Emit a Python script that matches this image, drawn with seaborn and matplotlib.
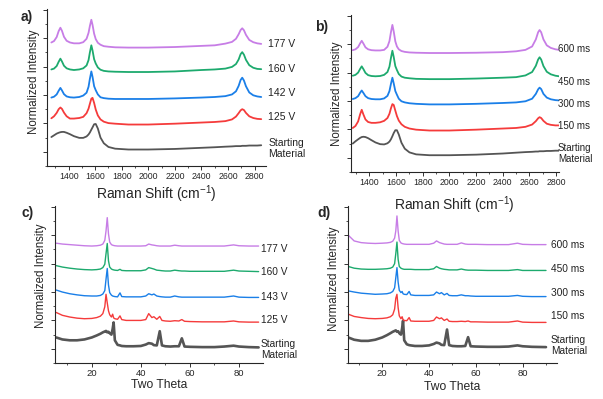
import numpy as np
import pandas as pd
import seaborn as sns
import matplotlib
matplotlib.use("Agg")
import matplotlib.pyplot as plt
from matplotlib.ticker import MultipleLocator, AutoMinorLocator

# ---- data (stacking offsets included) ----
sample_colors = ["#555555", "#f53b3b", "#1a7fe8", "#1daa6e", "#c77de6"]

raman_a_shift = [1270, 1290, 1310, 1325, 1338, 1350, 1365, 1385, 1410, 1440, 1480, 1510, 1535, 1550,
                 1560, 1571, 1580, 1592, 1604, 1620, 1640, 1665, 1700, 1750, 1850, 2000, 2200, 2400,
                 2500, 2580, 2630, 2660, 2680, 2695, 2707, 2720, 2735, 2760, 2790, 2820, 2850]
raman_a_start = [0.52, 0.58, 0.64, 0.67, 0.69, 0.70, 0.70, 0.67, 0.62, 0.55, 0.49, 0.49, 0.54, 0.61,
                 0.68, 0.78, 0.86, 0.97, 0.98, 0.82, 0.50, 0.30, 0.17, 0.11, 0.08, 0.08, 0.10, 0.14,
                 0.16, 0.18, 0.19, 0.20, 0.20, 0.20, 0.21, 0.21, 0.21, 0.22, 0.22, 0.22, 0.23]
raman_a_125 = [1.18, 1.25, 1.37, 1.50, 1.56, 1.51, 1.38, 1.25, 1.17, 1.17, 1.19, 1.23, 1.36, 1.52,
               1.69, 1.87, 1.90, 1.72, 1.49, 1.28, 1.14, 1.06, 1.01, 0.99, 0.96, 0.96, 0.99, 1.03,
               1.05, 1.08, 1.14, 1.24, 1.36, 1.46, 1.50, 1.47, 1.37, 1.25, 1.19, 1.16, 1.15]
raman_a_142 = [1.91, 1.94, 2.02, 2.15, 2.25, 2.16, 2.03, 1.95, 1.92, 1.91, 1.93, 1.98, 2.08, 2.29,
               2.57, 2.83, 2.64, 2.31, 2.17, 2.02, 1.92, 1.89, 1.87, 1.86, 1.86, 1.86, 1.88, 1.91,
               1.93, 1.96, 2.02, 2.13, 2.32, 2.53, 2.61, 2.51, 2.31, 2.09, 1.99, 1.95, 1.93]
raman_a_160 = [2.90, 2.93, 3.02, 3.17, 3.28, 3.18, 3.03, 2.94, 2.90, 2.88, 2.90, 2.94, 3.04, 3.23,
               3.50, 3.75, 3.57, 3.26, 3.11, 2.97, 2.89, 2.85, 2.83, 2.82, 2.81, 2.81, 2.83, 2.88,
               2.90, 2.93, 2.99, 3.09, 3.25, 3.44, 3.51, 3.42, 3.24, 3.05, 2.96, 2.92, 2.91]
raman_a_177 = [3.85, 3.90, 4.04, 4.25, 4.37, 4.26, 4.05, 3.91, 3.85, 3.82, 3.82, 3.86, 3.98, 4.19,
               4.43, 4.65, 4.47, 4.16, 3.97, 3.84, 3.77, 3.72, 3.70, 3.68, 3.67, 3.67, 3.69, 3.73,
               3.75, 3.81, 3.87, 3.98, 4.14, 4.29, 4.35, 4.28, 4.12, 3.94, 3.86, 3.82, 3.80]
raman_a_labels = ["Starting\nMaterial", "125 V", "142 V", "160 V", "177 V"]
raman_a_label_y = [0.12, 1.21, 2.07, 2.93, 3.80]

raman_b_shift = [1275, 1295, 1315, 1330, 1342, 1355, 1370, 1390, 1415, 1445, 1480, 1510, 1535, 1550,
                 1561, 1572, 1582, 1594, 1606, 1620, 1640, 1665, 1700, 1750, 1850, 2000, 2200, 2400,
                 2500, 2570, 2620, 2648, 2665, 2676, 2688, 2705, 2730, 2760, 2795, 2823]
raman_b_start = [0.50, 0.58, 0.65, 0.70, 0.73, 0.74, 0.73, 0.69, 0.62, 0.54, 0.48, 0.47, 0.51, 0.57,
                 0.65, 0.76, 0.87, 0.97, 0.97, 0.82, 0.53, 0.32, 0.19, 0.12, 0.09, 0.09, 0.11, 0.15,
                 0.18, 0.20, 0.21, 0.22, 0.22, 0.23, 0.23, 0.23, 0.24, 0.24, 0.25, 0.25]
raman_b_150 = [1.05, 1.12, 1.28, 1.53, 1.69, 1.52, 1.35, 1.26, 1.23, 1.23, 1.25, 1.30, 1.40, 1.55,
               1.74, 1.89, 1.86, 1.66, 1.47, 1.31, 1.18, 1.09, 1.03, 0.99, 0.96, 0.96, 0.99, 1.03,
               1.05, 1.09, 1.17, 1.29, 1.39, 1.43, 1.40, 1.30, 1.20, 1.16, 1.14, 1.14]
raman_b_300 = [2.07, 2.10, 2.17, 2.29, 2.37, 2.28, 2.17, 2.10, 2.07, 2.06, 2.06, 2.09, 2.18, 2.35,
               2.60, 2.82, 2.62, 2.35, 2.22, 2.08, 1.99, 1.95, 1.92, 1.90, 1.88, 1.88, 1.90, 1.93,
               1.95, 1.99, 2.08, 2.25, 2.41, 2.47, 2.42, 2.25, 2.12, 2.06, 2.03, 2.02]
raman_b_450 = [2.89, 2.92, 3.00, 3.13, 3.22, 3.12, 2.99, 2.91, 2.88, 2.87, 2.88, 2.92, 3.02, 3.21,
               3.51, 3.77, 3.55, 3.23, 3.09, 2.95, 2.86, 2.82, 2.80, 2.78, 2.77, 2.77, 2.79, 2.82,
               2.84, 2.90, 3.02, 3.24, 3.46, 3.54, 3.46, 3.23, 3.03, 2.94, 2.89, 2.87]
raman_b_600 = [3.79, 3.82, 3.90, 4.03, 4.12, 4.02, 3.89, 3.82, 3.79, 3.78, 3.78, 3.80, 3.91, 4.11,
               4.42, 4.68, 4.45, 4.10, 3.92, 3.82, 3.76, 3.73, 3.71, 3.70, 3.69, 3.69, 3.70, 3.72,
               3.75, 3.80, 3.92, 4.17, 4.42, 4.50, 4.42, 4.17, 3.96, 3.87, 3.82, 3.80]
raman_b_labels = ["Starting\nMaterial", "150 ms", "300 ms", "450 ms", "600 ms"]
raman_b_label_y = [0.14, 1.11, 1.88, 2.67, 3.83]

xrd_c_theta = [5.5, 8, 11, 14, 17, 20, 22, 23.5, 24.5, 25.3, 25.8, 26.3, 26.8, 27.3, 28.0, 28.5,
               28.9, 29.4, 30.5, 31.5, 32.2, 34, 37, 40, 42, 43.2, 44.5, 45.3, 46.5, 47.7, 48.6,
               50, 52, 53.8, 55.5, 56.7, 57.8, 60, 65, 70, 74, 77.8, 80, 84, 88]
xrd_c_start = [0.40, 0.33, 0.30, 0.30, 0.33, 0.40, 0.47, 0.53, 0.58, 0.61, 0.63, 0.58, 0.60, 0.55,
               0.50, 0.70, 0.93, 0.30, 0.14, 0.12, 0.10, 0.09, 0.09, 0.10, 0.15, 0.20, 0.18, 0.13,
               0.12, 0.62, 0.12, 0.09, 0.08, 0.09, 0.09, 0.37, 0.08, 0.07, 0.06, 0.06, 0.08, 0.11,
               0.08, 0.06, 0.05]
xrd_c_125 = [1.28, 1.18, 1.12, 1.08, 1.06, 1.07, 1.10, 1.15, 1.24, 1.48, 1.92, 1.62, 1.34, 1.20,
             1.12, 1.22, 1.09, 1.06, 1.04, 1.16, 1.03, 1.00, 1.00, 1.00, 1.03, 1.24, 1.10, 1.13,
             1.04, 1.14, 1.00, 0.98, 0.97, 0.99, 0.98, 1.03, 0.97, 0.96, 0.95, 0.95, 0.95, 0.98,
             0.95, 0.94, 0.94]
xrd_c_143 = [2.07, 2.00, 1.94, 1.90, 1.87, 1.86, 1.86, 1.88, 1.93, 2.05, 2.45, 2.83, 2.25, 1.98,
             1.89, 1.86, 1.85, 1.84, 1.83, 1.97, 1.84, 1.83, 1.83, 1.83, 1.86, 1.94, 1.90, 1.93,
             1.86, 1.84, 1.83, 1.82, 1.82, 1.86, 1.83, 1.82, 1.82, 1.82, 1.82, 1.82, 1.82, 1.86,
             1.82, 1.81, 1.81]
xrd_c_160 = [2.93, 2.88, 2.84, 2.81, 2.79, 2.78, 2.79, 2.81, 2.86, 2.98, 3.35, 3.71, 3.10, 2.88,
             2.81, 2.79, 2.78, 2.77, 2.76, 2.80, 2.76, 2.75, 2.75, 2.75, 2.78, 2.86, 2.83, 2.81,
             2.77, 2.76, 2.75, 2.74, 2.74, 2.77, 2.75, 2.74, 2.74, 2.73, 2.73, 2.73, 2.73, 2.77,
             2.74, 2.73, 2.72]
xrd_c_177 = [3.72, 3.69, 3.67, 3.65, 3.63, 3.62, 3.63, 3.65, 3.69, 3.82, 4.15, 4.62, 4.05, 3.76,
             3.67, 3.65, 3.64, 3.63, 3.62, 3.62, 3.62, 3.62, 3.62, 3.62, 3.63, 3.69, 3.66, 3.65,
             3.63, 3.62, 3.62, 3.62, 3.62, 3.65, 3.63, 3.62, 3.62, 3.62, 3.62, 3.62, 3.62, 3.66,
             3.63, 3.62, 3.62]
xrd_c_labels = ["Starting\nMaterial", "125 V", "143 V", "160 V", "177 V"]
xrd_c_label_y = [-0.02, 1.02, 1.84, 2.71, 3.53]

xrd_d_theta = [5.5, 8, 11, 14, 17, 20, 22, 23.5, 24.5, 25.3, 25.8, 26.3, 26.8, 27.3, 28.0, 28.5,
               28.9, 29.4, 30.5, 31.5, 32.2, 34, 37, 40, 42, 43.2, 44.5, 45.3, 46.5, 47.7, 48.6,
               50, 52, 53.8, 55.5, 56.7, 57.8, 60, 65, 70, 74, 77.8, 80, 84, 90]
xrd_d_start = [0.40, 0.32, 0.28, 0.28, 0.32, 0.40, 0.48, 0.55, 0.60, 0.63, 0.65, 0.60, 0.62, 0.55,
               0.50, 0.72, 0.99, 0.30, 0.16, 0.13, 0.12, 0.10, 0.10, 0.12, 0.17, 0.22, 0.19, 0.14,
               0.13, 0.68, 0.13, 0.10, 0.09, 0.09, 0.10, 0.41, 0.09, 0.08, 0.07, 0.07, 0.08, 0.12,
               0.09, 0.07, 0.06]
xrd_d_150 = [1.22, 1.14, 1.10, 1.07, 1.06, 1.07, 1.09, 1.13, 1.20, 1.40, 1.78, 1.92, 1.45, 1.16,
             1.06, 1.13, 1.03, 1.00, 0.99, 1.10, 0.98, 0.97, 0.97, 0.97, 1.00, 1.12, 1.06, 1.09,
             1.00, 1.05, 0.97, 0.96, 0.96, 0.97, 0.96, 0.98, 0.95, 0.95, 0.94, 0.94, 0.94, 0.98,
             0.94, 0.93, 0.93]
xrd_d_300 = [2.04, 2.00, 1.96, 1.94, 1.92, 1.93, 1.94, 1.97, 2.02, 2.15, 2.50, 2.86, 2.35, 2.06,
             1.98, 2.02, 1.94, 1.92, 1.91, 2.02, 1.90, 1.88, 1.88, 1.88, 1.90, 2.00, 1.94, 1.98,
             1.90, 1.95, 1.88, 1.87, 1.87, 1.90, 1.87, 1.87, 1.86, 1.85, 1.85, 1.85, 1.85, 1.88,
             1.85, 1.84, 1.84]
xrd_d_450 = [2.90, 2.84, 2.81, 2.80, 2.80, 2.81, 2.82, 2.84, 2.88, 3.00, 3.35, 3.76, 3.15, 2.90,
             2.84, 2.82, 2.81, 2.80, 2.80, 2.80, 2.80, 2.79, 2.79, 2.79, 2.82, 2.90, 2.84, 2.82,
             2.80, 2.79, 2.78, 2.78, 2.78, 2.81, 2.78, 2.77, 2.77, 2.77, 2.76, 2.76, 2.76, 2.79,
             2.76, 2.76, 2.76]
xrd_d_600 = [4.00, 3.80, 3.74, 3.72, 3.71, 3.72, 3.73, 3.75, 3.79, 3.90, 4.15, 4.68, 4.15, 3.82,
             3.73, 3.71, 3.70, 3.69, 3.68, 3.68, 3.68, 3.68, 3.68, 3.68, 3.72, 3.80, 3.74, 3.72,
             3.69, 3.68, 3.68, 3.68, 3.68, 3.73, 3.69, 3.68, 3.68, 3.68, 3.67, 3.67, 3.67, 3.72,
             3.68, 3.67, 3.67]
xrd_d_labels = ["Starting\nMaterial", "150 ms", "300 ms", "450 ms", "600 ms"]
xrd_d_label_y = [0.12, 1.14, 1.98, 2.80, 3.65]

# ---- style ----
sns.set_style("ticks")
plt.rcParams['font.family'] = ['Liberation Sans', 'DejaVu Sans']
plt.rcParams['mathtext.fontset'] = 'custom'
plt.rcParams['mathtext.rm'] = 'Liberation Sans'
plt.rcParams['mathtext.it'] = 'Liberation Sans'
plt.rcParams['axes.linewidth'] = 0.8


def draw_panel(ax, x, series, labels, label_y, label_x, xlim, major, tick_fs, lws, lab_fs):
    ax.set_facecolor('none')
    for vals, color, lw in zip(series, sample_colors, lws):
        sns.lineplot(x=x, y=vals, color=color, linewidth=lw, estimator=None,
                     sort=False, ax=ax)
    for text, ly in zip(labels, label_y):
        ax.annotate(text, xy=(label_x, ly), xycoords=('axes fraction', 'data'),
                    ha='left', va='center', fontsize=lab_fs, color='#222222',
                    linespacing=1.1, annotation_clip=False)
    ax.set_xlim(*xlim)
    ax.set_ylim(-0.5, 5.03)
    ax.xaxis.set_major_locator(MultipleLocator(major))
    ax.xaxis.set_minor_locator(AutoMinorLocator(2))
    ax.yaxis.set_major_locator(MultipleLocator(1))
    ax.yaxis.set_minor_locator(MultipleLocator(0.5))
    ax.set_yticklabels([])
    ax.tick_params(which='major', direction='out', length=2.6, width=0.7,
                   labelsize=tick_fs, pad=1.5, color='#333333')
    ax.tick_params(which='minor', direction='out', length=1.5, width=0.6, color='#333333')
    sns.despine(ax=ax)


fig = plt.figure(figsize=(6.03, 3.99), dpi=100)
ax_a = fig.add_axes([0.0779, 0.584, 0.363, 0.3935])
ax_b = fig.add_axes([0.5813, 0.569, 0.3458, 0.3935])
ax_c = fig.add_axes([0.0912, 0.0902, 0.345, 0.3935])
ax_d = fig.add_axes([0.5776, 0.0902, 0.3461, 0.3935])

raman_lw = [1.3] * 5
xrd_lw = [1.9, 1.0, 1.0, 1.0, 1.0]

draw_panel(ax_a, raman_a_shift,
           [raman_a_start, raman_a_125, raman_a_142, raman_a_160, raman_a_177],
           raman_a_labels, raman_a_label_y, 1.012, (1237, 2885), 200, 6.3, raman_lw, 7.5)
draw_panel(ax_b, raman_b_shift,
           [raman_b_start, raman_b_150, raman_b_300, raman_b_450, raman_b_600],
           raman_b_labels, raman_b_label_y, 0.994, (1258, 2822), 200, 6.3, raman_lw, 7)
draw_panel(ax_c, xrd_c_theta,
           [xrd_c_start, xrd_c_125, xrd_c_143, xrd_c_160, xrd_c_177],
           xrd_c_labels, xrd_c_label_y, 0.99, (5, 89.8), 20, 6.8, xrd_lw, 7.3)
draw_panel(ax_d, xrd_d_theta,
           [xrd_d_start, xrd_d_150, xrd_d_300, xrd_d_450, xrd_d_600],
           xrd_d_labels, xrd_d_label_y, 0.971, (5.5, 94.7), 20, 6.8, xrd_lw, 7.3)

# axis titles
for ax, xl, fs, xy_y, yl_xy in [
        (ax_a, "Raman Shift (cm$^{-1}$)", 10, -0.112, (-0.032, 0.535)),
        (ax_b, "Raman Shift (cm$^{-1}$)", 10, -0.14, (-0.036, 0.50)),
        (ax_c, "Two Theta", 8.7, -0.105, (-0.038, 0.554)),
        (ax_d, "Two Theta", 8.7, -0.115, (-0.040, 0.535))]:
    ax.set_xlabel(xl, fontsize=fs)
    ax.xaxis.set_label_coords(0.5, xy_y)
    ax.set_ylabel("Normalized Intensity", fontsize=8.3)
    ax.yaxis.set_label_coords(*yl_xy)

# panel letters
for txt, px, py in [("a)", 21, 17.5), ("b)", 315, 27), ("c)", 22, 212.5), ("d)", 317, 213)]:
    fig.text(px / 603, 1 - py / 399, txt, fontsize=10, fontweight='bold',
             ha='left', va='center')

fig.savefig("out.png", dpi=100)
